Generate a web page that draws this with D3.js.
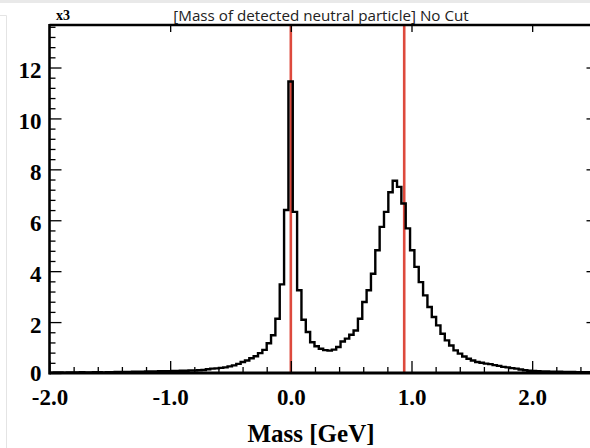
<!DOCTYPE html>
<html lang="en">
<head>
<meta charset="UTF-8">
<title>Mass of detected neutral particle</title>
<script src="https://d3js.org/d3.v7.min.js"></script>
<style>
  body { margin: 0; background: #fff; }
  svg { display: block; }
  .tick text { font-family: "Liberation Serif", "Times New Roman", serif; font-weight: bold; }
</style>
</head>
<body>
<svg id="plot" width="590" height="448"></svg>
<script>
// histogram: 125 bins of 0.036 GeV from -2.0 to 2.5, counts in units of 10^3
const binLow = -2.0, binHigh = 2.5;
const counts = [
  0.01, 0.02, 0.02, 0.01, 0.02, 0.02, 0.02, 0.03, 0.02, 0.02,
  0.03, 0.03, 0.02, 0.03, 0.03, 0.04, 0.04, 0.04, 0.04, 0.05,
  0.05, 0.05, 0.06, 0.06, 0.06, 0.07, 0.07, 0.07, 0.08, 0.08,
  0.09, 0.09, 0.10, 0.10, 0.11, 0.12, 0.15, 0.17, 0.18, 0.20,
  0.22, 0.26, 0.30, 0.36, 0.43, 0.49, 0.58, 0.66, 0.78, 0.91,
  1.17, 1.48, 2.13, 3.48, 6.40, 11.45, 6.33, 3.25, 2.09, 1.61,
  1.21, 1.05, 0.95, 0.90, 0.88, 0.92, 1.02, 1.24, 1.35, 1.50,
  1.67, 2.13, 2.79, 3.25, 3.90, 4.82, 5.74, 6.33, 7.10, 7.55,
  7.31, 6.66, 5.68, 4.82, 4.17, 3.57, 3.05, 2.59, 2.20, 1.87,
  1.54, 1.28, 1.08, 0.89, 0.76, 0.65, 0.56, 0.49, 0.43, 0.40,
  0.37, 0.35, 0.31, 0.28, 0.24, 0.22, 0.19, 0.17, 0.14, 0.11,
  0.09, 0.08, 0.07, 0.06, 0.06, 0.05, 0.05, 0.05, 0.04, 0.04,
  0.04, 0.03, 0.03, 0.03, 0.03
];
const majorX = [-2, -1, 0, 1, 2];
const majorY = [0, 2, 4, 6, 8, 10, 12];
const refLines = [0.0, 0.9396]; // red markers: photon, neutron
const yMax = 13.67;

const svg = d3.select("#plot");

// screenshot border bits
svg.append("rect").attr("x", 0).attr("y", 0).attr("width", 590).attr("height", 3).attr("fill", "#e9e9e9");
svg.append("path").attr("d", "M0,15.5H6.5V448").attr("fill", "none").attr("stroke", "#e4e4e4").attr("stroke-width", 1);

const x = d3.scaleLinear().domain([binLow, binHigh]).range([49.5, 592.5]);
const y = d3.scaleLinear().domain([0, yMax]).range([373, 25]);

const nb = counts.length;
const bw = (binHigh - binLow) / nb;
const bins = counts.map((c, i) => ({ x0: binLow + i * bw, c: c }));
bins.push({ x0: binHigh, c: counts[nb - 1] });

// red reference lines (behind histogram)
svg.selectAll(".ref").data(refLines).enter().append("line")
  .attr("class", "ref")
  .attr("x1", d => x(d)).attr("x2", d => x(d))
  .attr("y1", y(yMax)).attr("y2", y(0))
  .attr("stroke", "#dd4a3d").attr("stroke-width", 2.6);

// histogram outline
const line = d3.line().curve(d3.curveStepAfter).x(d => x(d.x0)).y(d => y(d.c));
svg.append("path").datum(bins)
  .attr("d", line)
  .attr("fill", "none").attr("stroke", "#000").attr("stroke-width", 2.4);

// bottom axis: minor + major ticks
svg.append("g").attr("transform", `translate(0,${y(0)})`)
  .call(d3.axisBottom(x).tickValues(x.ticks(22).filter(t => !majorX.includes(t))).tickSize(-6).tickFormat(""))
  .call(g => g.select(".domain").remove())
  .selectAll("line").attr("stroke", "#000").attr("stroke-width", 1.3);

const xAxis = svg.append("g").attr("transform", `translate(0,${y(0)})`)
  .call(d3.axisBottom(x).tickValues(majorX).tickSize(-12).tickPadding(16).tickFormat(d => d.toFixed(1)))
  .call(g => g.select(".domain").remove());
xAxis.selectAll("line").attr("stroke", "#000").attr("stroke-width", 1.3);
xAxis.selectAll("text").attr("font-size", 23).attr("fill", "#000");

// top axis: major ticks only
svg.append("g").attr("transform", `translate(0,${y(yMax)})`)
  .call(d3.axisTop(x).tickValues(majorX.filter(t => t > binLow)).tickSize(-7).tickFormat(""))
  .call(g => g.select(".domain").remove())
  .selectAll("line").attr("stroke", "#000").attr("stroke-width", 1.3);

// left axis
svg.append("g").attr("transform", `translate(${x(binLow)},0)`)
  .call(d3.axisLeft(y).tickValues(d3.range(0, yMax, 0.4).filter(t => Math.abs(t / 2 - Math.round(t / 2)) > 0.01)).tickSize(-6).tickFormat(""))
  .call(g => g.select(".domain").remove())
  .selectAll("line").attr("stroke", "#000").attr("stroke-width", 1.3);

const yAxis = svg.append("g").attr("transform", `translate(${x(binLow)},0)`)
  .call(d3.axisLeft(y).tickValues(majorY).tickSize(-12).tickPadding(8).tickFormat(d3.format("d")))
  .call(g => g.select(".domain").remove());
yAxis.selectAll("line").attr("stroke", "#000").attr("stroke-width", 1.3);
yAxis.selectAll("text").attr("font-size", 23).attr("fill", "#000")
  .attr("dy", d => d === 0 ? "0.34em" : "0.45em");

// right axis: major ticks only
svg.append("g").attr("transform", `translate(${x(binHigh)},0)`)
  .call(d3.axisRight(y).tickValues(majorY.filter(t => t > 0)).tickSize(-6).tickFormat(""))
  .call(g => g.select(".domain").remove())
  .selectAll("line").attr("stroke", "#000").attr("stroke-width", 1.3);

// frame
svg.append("line").attr("x1", x(binLow)).attr("x2", x(binHigh)).attr("y1", y(yMax)).attr("y2", y(yMax))
  .attr("stroke", "#000").attr("stroke-width", 2.4);
svg.append("line").attr("x1", x(binLow)).attr("x2", x(binHigh)).attr("y1", y(0)).attr("y2", y(0))
  .attr("stroke", "#000").attr("stroke-width", 3);
svg.append("line").attr("x1", x(binLow)).attr("x2", x(binLow)).attr("y1", y(yMax) - 1).attr("y2", y(0) + 1.5)
  .attr("stroke", "#000").attr("stroke-width", 2.6);

// labels
svg.append("text").attr("x", 56).attr("y", 20)
  .attr("font-family", "Liberation Serif, serif").attr("font-weight", "bold").attr("font-size", 14)
  .text("x3");
svg.append("text").attr("x", 321).attr("y", 21).attr("text-anchor", "middle")
  .attr("font-family", "Open Sans, sans-serif").attr("font-size", 15.2).attr("fill", "#222")
  .text("[Mass of detected neutral particle] No Cut");
svg.append("text").attr("x", 311).attr("y", 442).attr("text-anchor", "middle")
  .attr("font-family", "Liberation Serif, serif").attr("font-weight", "bold").attr("font-size", 25)
  .text("Mass [GeV]");
</script>
</body>
</html>
